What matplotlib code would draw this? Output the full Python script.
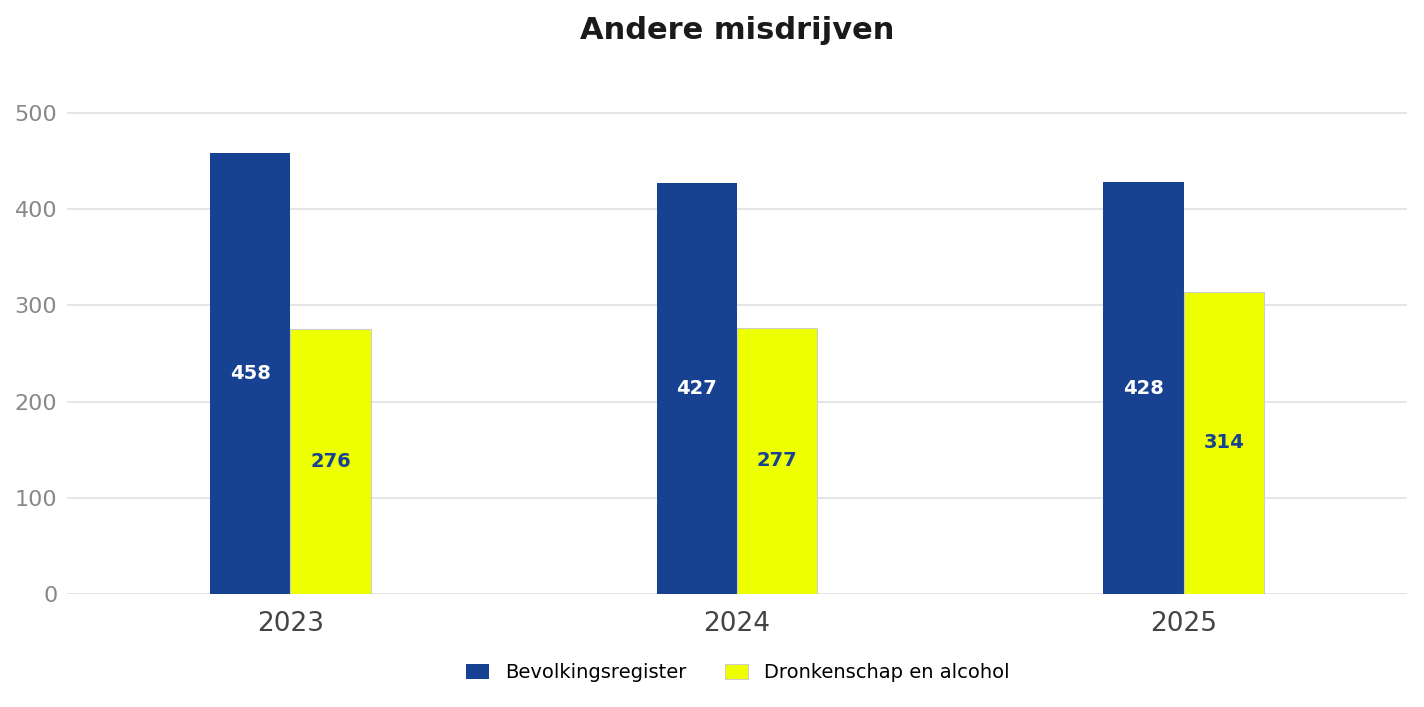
import numpy as np
import matplotlib.pyplot as plt

years = ["2023", "2024", "2025"]
bevolking = [458, 427, 428]
dronkenschap = [276, 277, 314]

blue = "#174291"
yellow = "#EEFF00"

fig = plt.figure(figsize=(14.24, 7.07), dpi=100)
ax = fig.add_axes([67 / 1424, 1 - 594 / 707, 1340 / 1424, 529 / 707])

x = np.arange(len(years))
w = 0.18
b1 = ax.bar(x - w / 2, bevolking, w, color=blue, label="Bevolkingsregister", zorder=3)
b2 = ax.bar(x + w / 2, dronkenschap, w, color=yellow, edgecolor="#cccccc", linewidth=0.8,
            label="Dronkenschap en alcohol", zorder=3)

# labels in the middle of each bar
for rect, v in zip(b1, bevolking):
    ax.text(rect.get_x() + rect.get_width() / 2, v / 2, str(v), ha="center", va="center",
            color="white", fontsize=14, fontweight="bold", zorder=4)
for rect, v in zip(b2, dronkenschap):
    ax.text(rect.get_x() + rect.get_width() / 2, v / 2, str(v), ha="center", va="center",
            color=blue, fontsize=14, fontweight="bold", zorder=4)

ax.set_xlim(-0.5, 2.5)
ax.set_ylim(0, 550)
ax.set_yticks([0, 100, 200, 300, 400, 500])
ax.set_xticks(x)
ax.set_xticklabels(years)
ax.tick_params(axis="x", labelsize=19, colors="#444444", length=0, pad=12)
ax.tick_params(axis="y", labelsize=16, colors="#888888", length=0, pad=7)
ax.grid(axis="y", color="#e0e0e0", linewidth=1.2, zorder=0)
for s in ax.spines.values():
    s.set_visible(False)

ax.set_title("Andere misdrijven", fontsize=22, fontweight="bold", color="#1a1a1a", pad=18.5)
fig.legend(loc="lower center", ncol=2, frameon=False, fontsize=14, bbox_to_anchor=(0.518, 0.01),
           handlelength=1.2, handleheight=0.8, columnspacing=2.0)

fig.savefig("out.png", dpi=100)
